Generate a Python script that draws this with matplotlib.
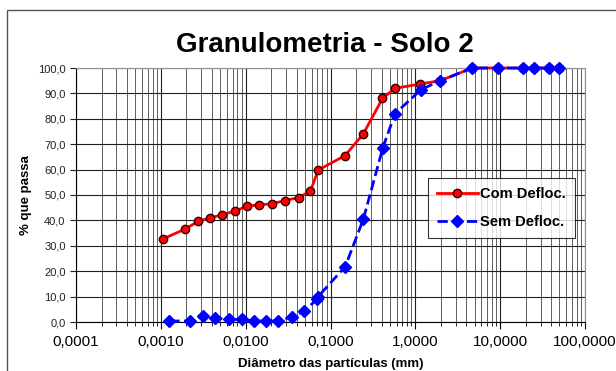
import matplotlib
matplotlib.use("Agg")
import matplotlib.pyplot as plt
from matplotlib.patches import Rectangle
from matplotlib.ticker import FixedLocator, LogLocator, FuncFormatter

plt.rcParams['font.family'] = ['Liberation Sans', 'DejaVu Sans']

# data
d_com = [0.00106, 0.00193, 0.00275, 0.0038, 0.0053, 0.0075, 0.0104, 0.0145, 0.0205,
         0.029, 0.042, 0.058, 0.0715, 0.148, 0.243, 0.41, 0.575, 1.14, 1.96, 4.7,
         9.4, 18.5, 25.0, 37.5, 50.0]
p_com = [32.7, 36.6, 39.6, 41.0, 42.2, 43.7, 45.6, 46.1, 46.6,
         47.8, 49.0, 51.5, 59.8, 65.5, 74.0, 88.0, 92.0, 93.7, 95.0, 100.0,
         100.0, 100.0, 100.0, 100.0, 100.0]

d_sem = [0.00126, 0.0022, 0.0031, 0.0044, 0.0064, 0.009, 0.0126, 0.0173, 0.0241,
         0.035, 0.049, 0.069, 0.0715, 0.149, 0.244, 0.413, 0.575, 1.17, 1.96, 4.7,
         9.4, 18.5, 25.0, 37.5, 50.0]
p_sem = [0.4, 0.4, 2.5, 1.5, 1.0, 1.0, 0.4, 0.4, 0.4,
         2.0, 4.3, 8.9, 10.0, 21.8, 40.5, 68.5, 82.0, 91.5, 95.0, 100.0,
         100.0, 100.0, 100.0, 100.0, 100.0]

x_ticks = [0.0001, 0.001, 0.01, 0.1, 1, 10, 100]
y_ticks = list(range(0, 101, 10))

fig = plt.figure(figsize=(6.16, 3.71), dpi=100)
ax = fig.add_axes([76/616, 1 - 322/371, (585 - 76)/616, (322 - 68)/371])

# outer chart border
fig.patches.append(Rectangle((7/616, -0.1), 1.2, 1 - 10/371 + 0.1,
                             transform=fig.transFigure, fill=False,
                             edgecolor='#555555', linewidth=1.0))

ax.set_xscale('log')
ax.set_xlim(0.0001, 100)
ax.set_ylim(0, 100)

ax.plot(d_com, p_com, '-o', color='red', lw=2, ms=6, mfc='red', mec='#300000',
        mew=1, label='Com Defloc.', zorder=3, clip_on=False)
ax.plot(d_sem, p_sem, '--D', color='blue', lw=2, ms=6, mfc='blue', mec='blue',
        label='Sem Defloc.', zorder=4, clip_on=False)

ax.xaxis.set_major_locator(FixedLocator(x_ticks))
ax.xaxis.set_minor_locator(LogLocator(base=10, subs=range(2, 10)))
ax.xaxis.set_major_formatter(FuncFormatter(lambda v, p: f"{v:.4f}".replace('.', ',')))
ax.xaxis.set_minor_formatter(FuncFormatter(lambda v, p: ''))
ax.set_yticks(y_ticks)
ax.yaxis.set_major_formatter(FuncFormatter(lambda v, p: f"{v:.1f}".replace('.', ',')))

ax.grid(which='major', axis='both', color='#202020', lw=0.8)
ax.grid(which='minor', axis='x', color='#606060', lw=0.7)
ax.set_axisbelow(True)

ax.tick_params(axis='x', which='major', labelsize=11, length=5, direction='out', pad=4)
ax.tick_params(axis='x', which='minor', length=3, direction='out')
ax.tick_params(axis='y', labelsize=8, length=4, direction='out', colors='#222222')

for s in ['top', 'right']:
    ax.spines[s].set_color('#909090')
for s in ['left', 'bottom']:
    ax.spines[s].set_color('black')

fig.text(0.528, 1 - 45/371, 'Granulometria - Solo 2', fontsize=20, fontweight='bold',
         ha='center', va='center')
ax.set_ylabel('% que passa', fontsize=9.5, fontweight='bold', labelpad=4)
ax.set_xlabel('Diâmetro das partículas (mm)', fontsize=9.5, fontweight='bold', labelpad=7)

leg = ax.legend(loc='upper left', bbox_to_anchor=((428 - 76)/509, 1 - (178 - 68)/254),
                borderaxespad=0, fontsize=10.5, frameon=True, fancybox=False,
                handlelength=2.8, borderpad=0.6, labelspacing=1.0, handletextpad=0.2)
leg.get_frame().set_edgecolor('black')
leg.get_frame().set_linewidth(0.8)
for t in leg.get_texts():
    t.set_fontweight('bold')

fig.savefig('out.png', dpi=100)
